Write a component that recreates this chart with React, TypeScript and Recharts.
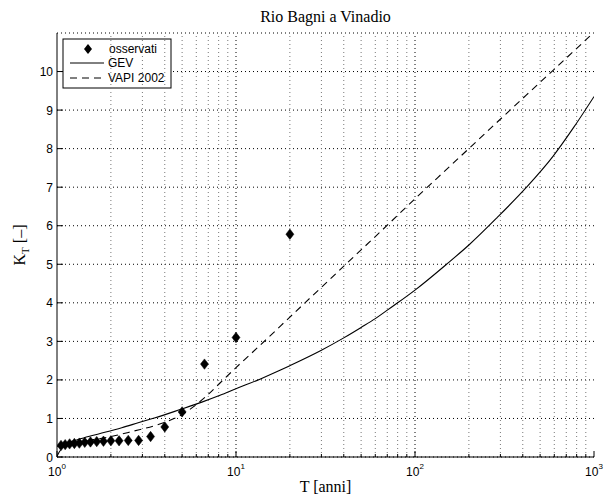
import React from "react";
import {
  ComposedChart,
  Line,
  Scatter,
  XAxis,
  YAxis,
  CartesianGrid,
  ReferenceLine,
} from "recharts";

// ---------- data ----------
const obsT = [20, 10, 6.667, 5, 4, 3.333, 2.857, 2.5, 2.222, 2, 1.818, 1.667, 1.538, 1.429, 1.333, 1.25, 1.176, 1.111, 1.053];
const obsK = [5.78, 3.1, 2.41, 1.17, 0.78, 0.53, 0.43, 0.43, 0.42, 0.42, 0.41, 0.4, 0.39, 0.38, 0.36, 0.35, 0.34, 0.32, 0.3];

const gevT = [1, 1.05, 1.1, 1.26, 1.5, 1.85, 2.3, 2.9, 3.5, 4.87, 6.5, 8.14, 10, 13.6, 17.6, 20, 30, 40, 50, 60, 70, 80, 100, 150, 200, 286, 420, 590, 770, 1000];
const gevK = [0.27, 0.32, 0.35, 0.43, 0.53, 0.64, 0.76, 0.9, 1.01, 1.23, 1.43, 1.6, 1.77, 2.02, 2.25, 2.37, 2.77, 3.09, 3.36, 3.59, 3.81, 4.0, 4.33, 5.0, 5.5, 6.2, 7.0, 7.8, 8.55, 9.35];

const vapiT = [1, 1.02, 1.1, 1.3, 1.6, 2, 2.67, 3.5, 4.47, 5, 5.77, 6.72, 8.14, 10, 12, 15, 20, 26, 40, 66, 100, 134, 203, 340, 500, 700, 890, 1000];
const vapiK = [0.02, 0.1, 0.25, 0.37, 0.45, 0.53, 0.67, 0.81, 0.99, 1.1, 1.3, 1.55, 1.92, 2.32, 2.66, 3.08, 3.63, 4.13, 4.95, 5.9, 6.7, 7.25, 8.03, 9.0, 9.72, 10.35, 10.8, 11.02];

const majorT = [1, 10, 100, 1000];
const minorT = [2, 3, 4, 5, 6, 7, 8, 9, 20, 30, 40, 50, 60, 70, 80, 90, 200, 300, 400, 500, 600, 700, 800, 900];
const xTicks = [1, 2, 3, 4, 5, 6, 7, 8, 9, 10, 20, 30, 40, 50, 60, 70, 80, 90, 100, 200, 300, 400, 500, 600, 700, 800, 900, 1000];
const yTicks = [0, 1, 2, 3, 4, 5, 6, 7, 8, 9, 10];
const exponents = ["0", "1", "2", "3"];

const titleText = "Rio Bagni a Vinadio";
const xLabelText = "T [anni]";
const legendLabels = ["osservati", "GEV", "VAPI 2002"];

const obsData = obsT.map((t, i) => ({ t, k: obsK[i] }));
const gevData = gevT.map((t, i) => ({ t, k: gevK[i] }));
const vapiData = vapiT.map((t, i) => ({ t, k: vapiK[i] }));

// ---------- layout ----------
const W = 606;
const H = 502;
const PL = 57;
const PR = 594;
const PT = 33;
const PB = 457;
const CX = (PL + PR) / 2;
const SANS = "'Liberation Sans', Arial, Helvetica, sans-serif";
const SERIF = "'Liberation Serif', 'Times New Roman', serif";
const DASH = "7 5";

const BottomTick = (props: any) => {
  const { x, y, payload } = props;
  const v = payload.value;
  const mi = majorT.indexOf(v);
  const major = mi >= 0;
  return (
    <g>
      <line x1={x} x2={x} y1={y} y2={y - (major ? 6 : 3)} stroke="#000" strokeWidth={1} />
      {major && (
        <text x={x} y={y + 19} textAnchor="middle" fontFamily={SANS} fontSize={12} fill="#000">
          10
          <tspan dy={-7} fontSize={8}>
            {exponents[mi]}
          </tspan>
        </text>
      )}
    </g>
  );
};

const TopTick = (props: any) => {
  const { x, y, payload } = props;
  const major = majorT.indexOf(payload.value) >= 0;
  return <line x1={x} x2={x} y1={y} y2={y + (major ? 6 : 3)} stroke="#000" strokeWidth={1} />;
};

const LeftTick = (props: any) => {
  const { x, y, payload } = props;
  return (
    <g>
      <line x1={x} x2={x + 6} y1={y} y2={y} stroke="#000" strokeWidth={1} />
      <text x={x - 4} y={y + 4.5} textAnchor="end" fontFamily={SANS} fontSize={12} fill="#000">
        {payload.value}
      </text>
    </g>
  );
};

const RightTick = (props: any) => {
  const { x, y } = props;
  return <line x1={x} x2={x - 6} y1={y} y2={y} stroke="#000" strokeWidth={1} />;
};

const Diamond = (props: any) => {
  const { cx, cy } = props;
  if (cx == null || cy == null) return null;
  return (
    <polygon
      points={`${cx},${cy - 5.2} ${cx + 4},${cy} ${cx},${cy + 5.2} ${cx - 4},${cy}`}
      fill="#000"
      stroke="#000"
      strokeWidth={0.5}
    />
  );
};

export default function App() {
  return (
    <div style={{ position: "absolute", left: 0, top: 0, width: W, height: H, background: "#fff" }}>
      <ComposedChart width={W} height={H} margin={{ top: PT, right: W - PR, bottom: 0, left: 0 }}>
        <CartesianGrid vertical={false} stroke="#000" strokeDasharray="1 3" strokeWidth={1} />
        {minorT.map((v) => (
          <ReferenceLine key={"m" + v} x={v} stroke="#777" strokeDasharray="1 3" strokeWidth={1} />
        ))}
        {[10, 100].map((v) => (
          <ReferenceLine key={"M" + v} x={v} stroke="#000" strokeDasharray="1 3" strokeWidth={1} />
        ))}
        <XAxis
          dataKey="t"
          type="number"
          scale="log"
          domain={[1, 1000]}
          allowDataOverflow
          ticks={xTicks}
          interval={0}
          tick={<BottomTick />}
          tickSize={0}
          tickMargin={0}
          tickLine={false}
          axisLine={{ stroke: "#000", strokeWidth: 1 }}
          height={H - PB}
        />
        <XAxis
          xAxisId="top"
          orientation="top"
          dataKey="t"
          type="number"
          scale="log"
          domain={[1, 1000]}
          allowDataOverflow
          ticks={xTicks}
          interval={0}
          tick={<TopTick />}
          tickSize={0}
          tickMargin={0}
          tickLine={false}
          axisLine={{ stroke: "#000", strokeWidth: 1 }}
          height={0}
        />
        <YAxis
          dataKey="k"
          type="number"
          domain={[0, 11]}
          allowDataOverflow
          ticks={yTicks}
          interval={0}
          tick={<LeftTick />}
          tickSize={0}
          tickMargin={0}
          tickLine={false}
          axisLine={{ stroke: "#000", strokeWidth: 1 }}
          width={PL}
        />
        <YAxis
          yAxisId="right"
          orientation="right"
          dataKey="k"
          type="number"
          domain={[0, 11]}
          allowDataOverflow
          ticks={yTicks}
          interval={0}
          tick={<RightTick />}
          tickSize={0}
          tickMargin={0}
          tickLine={false}
          axisLine={{ stroke: "#000", strokeWidth: 1 }}
          width={0}
        />
        <Line
          data={gevData}
          dataKey="k"
          type="monotone"
          stroke="#000"
          strokeWidth={1.1}
          dot={false}
          activeDot={false}
          isAnimationActive={false}
        />
        <Line
          data={vapiData}
          dataKey="k"
          type="monotone"
          stroke="#000"
          strokeWidth={1.1}
          strokeDasharray={DASH}
          dot={false}
          activeDot={false}
          isAnimationActive={false}
        />
        <Scatter data={obsData} dataKey="k" fill="#000" shape={<Diamond />} isAnimationActive={false} />

        <text x={CX} y={22} textAnchor="middle" fontFamily={SERIF} fontSize={16} fill="#000">
          {titleText}
        </text>
        <text x={CX} y={492} textAnchor="middle" fontFamily={SERIF} fontSize={16} fill="#000">
          {xLabelText}
        </text>
        <text
          x={0}
          y={0}
          transform={`translate(25, ${(PT + PB) / 2}) rotate(-90)`}
          textAnchor="middle"
          fontFamily={SERIF}
          fontSize={16}
          fill="#000"
        >
          K
          <tspan dy={4} fontSize={11}>
            T
          </tspan>
          <tspan dy={-4}> [–]</tspan>
        </text>

        <g>
          <rect x={63} y={39} width={108} height={49} fill="#fff" stroke="#000" strokeWidth={1} />
          <polygon points="88,44 92,49 88,54 84,49" fill="#000" />
          <text x={109} y={53} fontFamily={SANS} fontSize={12} fill="#000">
            {legendLabels[0]}
          </text>
          <line x1={70} x2={104} y1={63} y2={63} stroke="#000" strokeWidth={1} />
          <text x={108} y={67} fontFamily={SANS} fontSize={12} fill="#000">
            {legendLabels[1]}
          </text>
          <line x1={70} x2={104} y1={78} y2={78} stroke="#000" strokeWidth={1} strokeDasharray={DASH} />
          <text x={108} y={82} fontFamily={SANS} fontSize={12} fill="#000">
            {legendLabels[2]}
          </text>
        </g>
      </ComposedChart>
    </div>
  );
}
